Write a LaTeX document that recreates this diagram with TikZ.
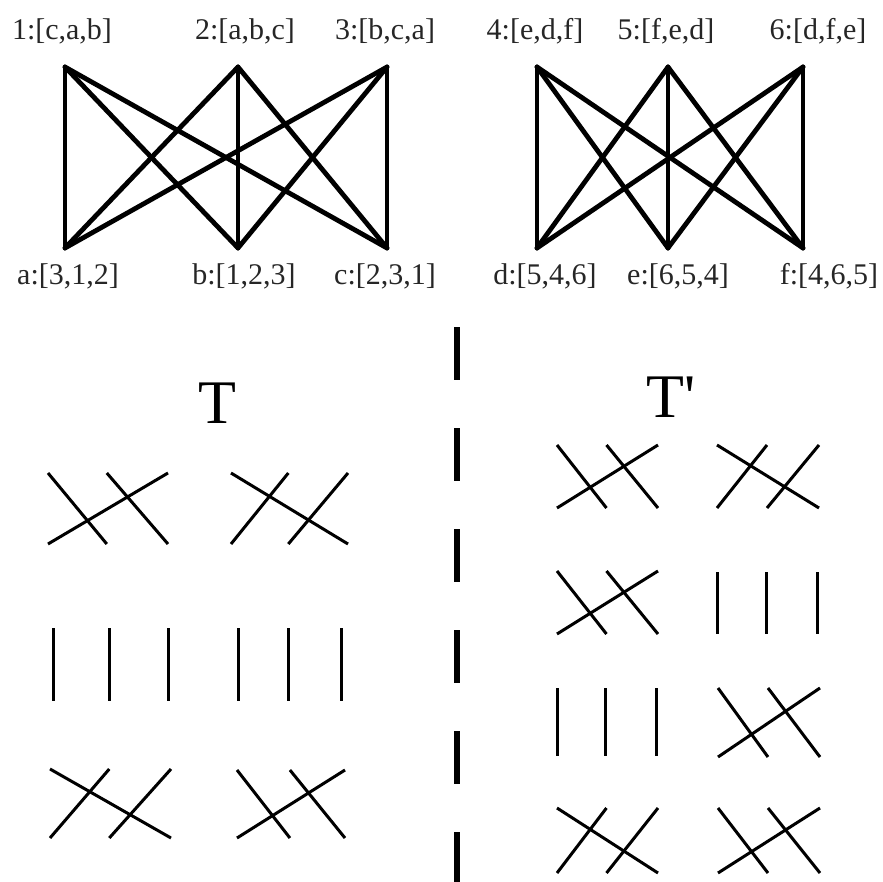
\documentclass[tikz,border=0pt]{standalone}
\usepackage{fontspec}
\setmainfont{Liberation Serif}

\tikzset{
  edge/.style={line width=2.4pt, line cap=round},
  strand/.style={line width=1.5pt},
  lab/.style={font=\fontsize{15}{18}\selectfont, text=black!85, anchor=base, inner sep=0pt},
  title/.style={font=\fontsize{31}{36}\selectfont, anchor=base, inner sep=0pt},
  divider/.style={line width=3pt, dash pattern=on 26.5pt off 24pt},
}

% three strands, cycled one way: x, y (top left), width, height
\newcommand{\crossA}[4]{%
  \draw[strand] (#1,#2+#4) -- (#1+#3,#2); % long one
  \draw[strand] (#1,#2) -- (#1+0.49*#3,#2+#4);
  \draw[strand] (#1+0.49*#3,#2) -- (#1+#3,#2+#4);
}
% three strands, cycled the other way
\newcommand{\crossB}[4]{%
  \draw[strand] (#1,#2) -- (#1+#3,#2+#4); % long one
  \draw[strand] (#1,#2+#4) -- (#1+0.49*#3,#2);
  \draw[strand] (#1+0.49*#3,#2+#4) -- (#1+#3,#2);
}
% three straight strands
\newcommand{\straight}[4]{%
  \foreach \s in {0,0.49,1} {
    \draw[strand] (#1+\s*#3,#2) -- (#1+\s*#3,#2+#4);
  }
}

\begin{document}
\begin{tikzpicture}[x=0.5pt, y=-0.5pt]

    \useasboundingbox (0,0) rectangle (883,882);

    % Left graph
    \coordinate (n1) at (65,67);
    \coordinate (n2) at (238,67);
    \coordinate (n3) at (387,67);
    \coordinate (na) at (65,248);
    \coordinate (nb) at (238,248);
    \coordinate (nc) at (387,248);
    \foreach \t in {n1,n2,n3} {
    \foreach \b in {na,nb,nc} {
        \draw[edge] (\t) -- (\b);
    }
    }

    % Right graph
    \coordinate (n4) at (537,67);
    \coordinate (n5) at (668,67);
    \coordinate (n6) at (803,67);
    \coordinate (nd) at (537,248);
    \coordinate (ne) at (668,248);
    \coordinate (nf) at (803,248);
    \foreach \t in {n4,n5,n6} {
    \foreach \b in {nd,ne,nf} {
        \draw[edge] (\t) -- (\b);
    }
    }

    % Preference lists
    \node[lab] (l1) at (62,40) {1:[c,a,b]};
    \node[lab] (l2) at (245,40) {2:[a,b,c]};
    \node[lab] (l3) at (385,40) {3:[b,c,a]};
    \node[lab] (l4) at (535,40) {4:[e,d,f]};
    \node[lab] (l5) at (666,40) {5:[f,e,d]};
    \node[lab] (l6) at (818,40) {6:[d,f,e]};
    \node[lab] (la) at (68,285) {a:[3,1,2]};
    \node[lab] (lb) at (244,285) {b:[1,2,3]};
    \node[lab] (lc) at (385,285) {c:[2,3,1]};
    \node[lab] (ld) at (545,285) {d:[5,4,6]};
    \node[lab] (le) at (678,285) {e:[6,5,4]};
    \node[lab] (lf) at (829,285) {f:[4,6,5]};

    % Divider
    \coordinate (dtop) at (457,327);
    \coordinate (dbot) at (457,882);
    \draw[divider] (dtop) -- (dbot);

    % T
    \node[title] (tl) at (217,423) {T};
    \crossA{48}{473}{120}{71}
    \crossB{231}{473}{117}{71}
    \straight{53}{628}{115}{73}
    \straight{238}{628}{103}{73}
    \crossB{50}{769}{121}{69}
    \crossA{237}{770}{108}{68}

    % T'
    \node[title] (tr) at (671,417) {T\textquotesingle};
    \crossA{557}{445}{101}{63}
    \crossB{717}{445}{102}{63}
    \crossA{557}{571}{101}{63}
    \straight{717}{572}{100}{62}
    \straight{557}{688}{99}{68}
    \crossA{718}{688}{102}{69}
    \crossB{557}{808}{101}{65}
    \crossA{718}{808}{102}{65}

\end{tikzpicture}
\end{document}
